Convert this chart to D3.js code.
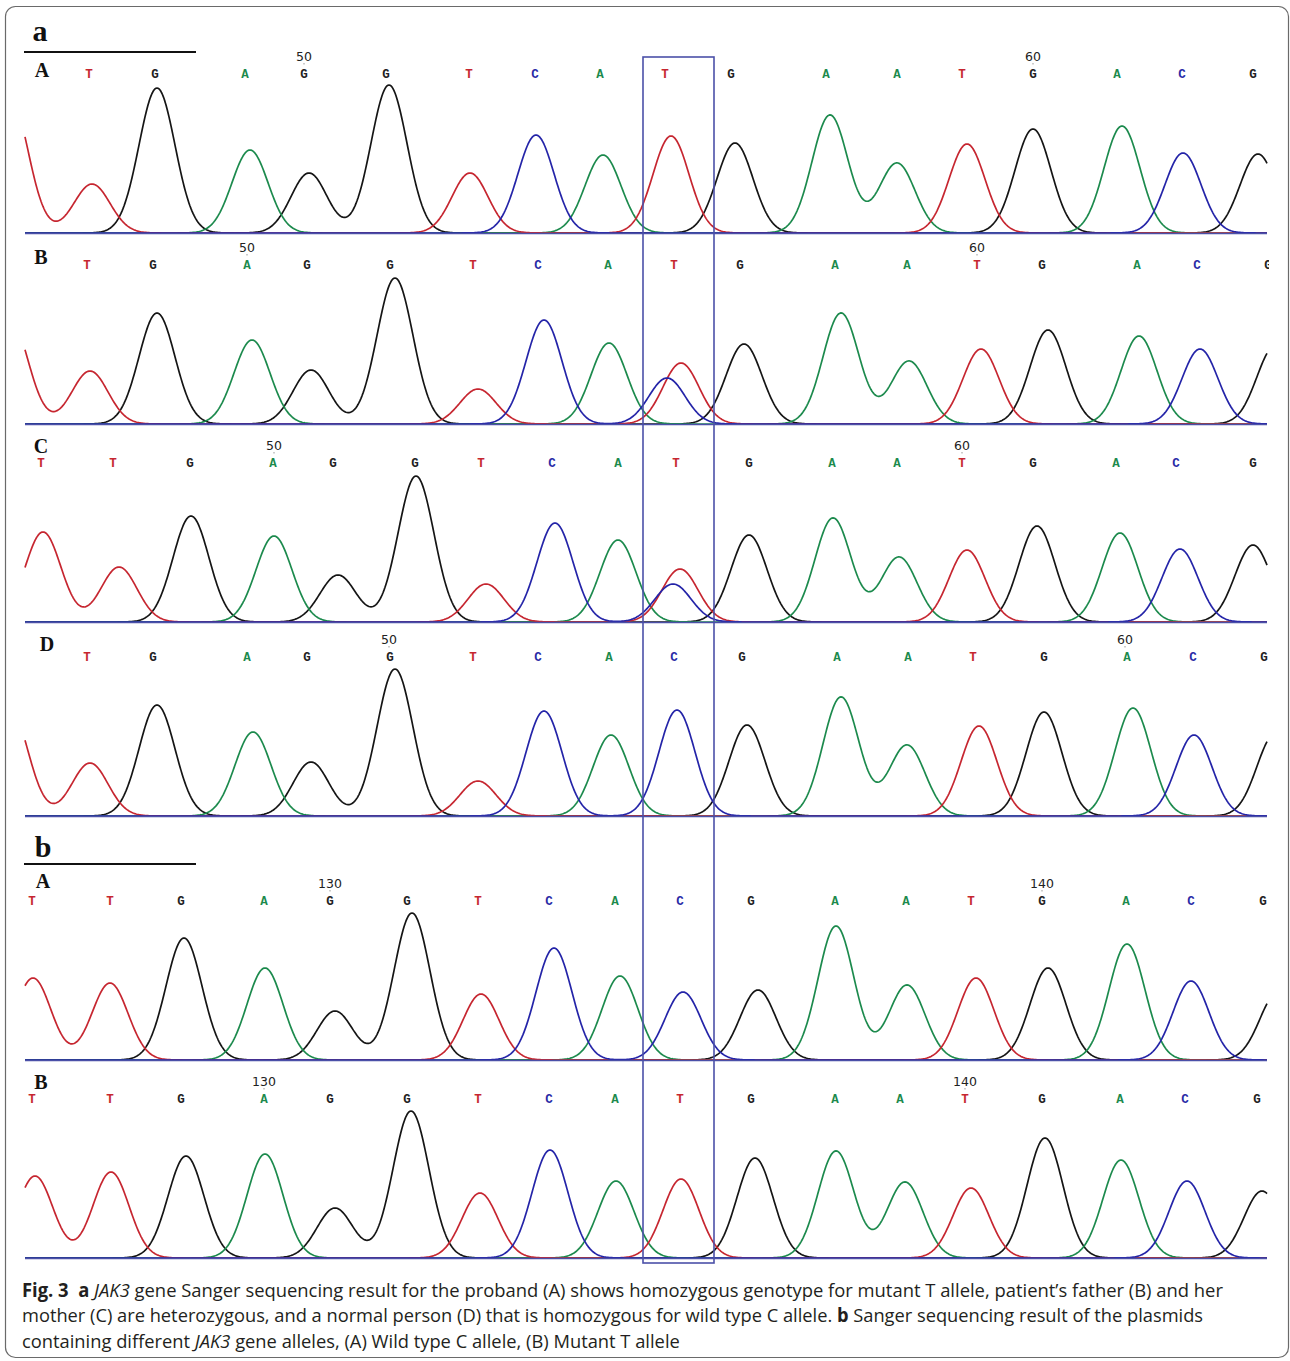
<!DOCTYPE html>
<html><head><meta charset="utf-8">
<script src="https://cdn.jsdelivr.net/npm/d3@7"></script>
<style>body{margin:0;background:#fff}</style>
</head><body>
<svg id="chart" width="1290" height="1361"></svg>
<script>
// ================= DATA =================
// Trace position in scan units, signal intensity in arbitrary units.
const sectionNames = ["a", "b"];
const panelNames = ["A", "B", "C", "D", "A", "B"];

// peaks: [base, scan position, intensity]
const peaksA = [["T",-15,136],["T",67,49],["G",132,145],["A",225,83],["G",284,60],["G",364,148],["T",445,60],["C",511,98],["A",578,78],["T",646,97],["G",710,90],["A",805,118],["A",872,70],["T",942,89],["G",1008,104],["A",1097,107],["C",1158,80],["G",1233,79]];
const peaksB = [["T",-15,105],["T",65,53],["G",132,111],["A",227,84],["G",286,54],["G",370,146],["T",453,35],["C",519,104],["A",584,81],["C",642,46],["T",656,61],["G",719,80],["A",816,111],["A",884,63],["T",956,75],["G",1023,94],["A",1114,88],["C",1175,75],["G",1250,78]];
const peaksC = [["T",18,90],["T",94,55],["G",166,106],["A",249,86],["G",313,47],["G",391,146],["T",461,38],["C",530,99],["A",593,82],["C",648,38],["T",655,53],["G",724,87],["A",808,104],["A",874,65],["T",942,72],["G",1012,96],["A",1095,89],["C",1155,73],["G",1228,77]];
const peaksD = [["T",-15,107],["T",65,53],["G",132,111],["A",228,84],["G",286,54],["G",370,147],["T",453,35],["C",519,105],["A",586,81],["C",652,106],["G",722,91],["A",816,119],["A",882,71],["T",954,90],["G",1019,104],["A",1108,108],["C",1169,81],["G",1250,82]];
const peaksPlasmidA = [["T",8,82],["T",85,77],["G",159,122],["A",240,92],["G",310,49],["G",387,147],["T",456,66],["C",529,112],["A",595,84],["C",658,68],["G",733,70],["A",811,134],["A",882,75],["T",951,82],["G",1023,92],["A",1102,116],["C",1166,79],["G",1253,68]];
const peaksPlasmidB = [["T",10,82],["T",86,86],["G",161,102],["A",240,104],["G",310,50],["G",386,147],["T",455,65],["C",525,108],["A",591,77],["T",656,79],["G",730,100],["A",811,107],["A",880,76],["T",946,70],["G",1020,120],["A",1096,98],["C",1162,77],["G",1237,67]];

// base calls: sequence + scan positions
const callsA = "TGAGGTCATGAATGACG";
const callPosA = [64,130,220,279,361,444,510,575,640,706,801,872,937,1008,1092,1157,1228];
const callsB = "TGAGGTCATGAATGACG";
const callPosB = [62,128,222,282,365,448,513,583,649,715,810,882,952,1017,1112,1172,1243];
const callsC = "TTGAGGTCATGAATGACG";
const callPosC = [16,88,165,248,308,390,456,527,593,651,724,807,872,937,1008,1091,1151,1228];
const callsD = "TGAGGTCACGAATGACG";
const callPosD = [62,128,222,282,365,448,513,584,649,717,812,883,948,1019,1102,1168,1239];
const callsPlasmidA = "TTGAGGTCACGAATGACG";
const callPosPlasmidA = [7,85,156,239,305,382,453,524,590,655,726,810,881,946,1017,1101,1166,1238];
const callsPlasmidB = "TTGAGGTCATGAATGACG";
const callPosPlasmidB = [7,85,156,239,305,382,453,524,590,655,726,810,875,940,1017,1095,1160,1232];

// base numbering ticks: [number, scan position]
const numbersA = [[50,279],[60,1008]];
const numbersB = [[50,222],[60,952]];
const numbersC = [[50,249],[60,937]];
const numbersD = [[50,364],[60,1100]];
const numbersPlasmidA = [[130,305],[140,1017]];
const numbersPlasmidB = [[130,239],[140,940]];

// highlighted variant window (scan units)
const variantWindow = [618, 689];

const captionLines = [
  [["b","Fig. 3"],["n","  "],["b","a"],["n"," "],["i","JAK3"],["n"," gene Sanger sequencing result for the proband (A) shows homozygous genotype for mutant T allele, patient\u2019s father (B) and her"]],
  [["n","mother (C) are heterozygous, and a normal person (D) that is homozygous for wild type C allele. "],["b","b"],["n"," Sanger sequencing result of the plasmids"]],
  [["n","containing different "],["i","JAK3"],["n"," gene alleles, (A) Wild type C allele, (B) Mutant T allele"]]
];

// ================= LAYOUT / STYLE =================
const panels = [
  {peaks: peaksA, calls: callsA, pos: callPosA, nums: numbersA},
  {peaks: peaksB, calls: callsB, pos: callPosB, nums: numbersB},
  {peaks: peaksC, calls: callsC, pos: callPosC, nums: numbersC},
  {peaks: peaksD, calls: callsD, pos: callPosD, nums: numbersD},
  {peaks: peaksPlasmidA, calls: callsPlasmidA, pos: callPosPlasmidA, nums: numbersPlasmidA},
  {peaks: peaksPlasmidB, calls: callsPlasmidB, pos: callPosPlasmidB, nums: numbersPlasmidB}
];
const baselines = [233, 424, 622, 816, 1060, 1258];
const labelX = [42, 41, 41, 47, 43, 41];
const labelRise = [163, 167, 176, 172, 179, 176];
const sectionLayout = [{x: 40, y: 41, line: 52}, {x: 43, y: 857, line: 864}];
const captionY = [1297, 1322, 1348];
const captionW = [1202, 1182, 658];
const sigma = 18;

const traceColor = {T: "#c62630", A: "#1c8a4d", G: "#151515", C: "#2424a8"};
const letterColor = {T: "#c62630", A: "#1c8a4d", G: "#222", C: "#2a2aa6"};
const baseColor = "#4b50a8";

const svg = d3.select("#chart");
const x = d3.scaleLinear().domain([0, 1242]).range([25, 1267]);
const y = d3.scaleLinear().domain([0, 150]).range([0, -150]);

// frame
svg.append("rect").attr("x", 5.5).attr("y", 6.5).attr("width", 1283).attr("height", 1351)
  .attr("rx", 10).attr("fill", "none").attr("stroke", "#6a6a6a").attr("stroke-width", 1.2);

svg.append("defs").append("clipPath").attr("id", "clipL")
  .append("rect").attr("x", 0).attr("y", -2000).attr("width", x(1244)).attr("height", 4000);

// section labels
sectionNames.forEach((s, i) => {
  const L = sectionLayout[i];
  svg.append("text").attr("x", L.x).attr("y", L.y).attr("text-anchor", "middle")
    .attr("font-family", "Liberation Serif, serif").attr("font-weight", "bold")
    .attr("font-size", 30).attr("fill", "#111").text(s);
  svg.append("line").attr("x1", 24).attr("x2", 196).attr("y1", L.line).attr("y2", L.line)
    .attr("stroke", "#111").attr("stroke-width", 2);
});

const samples = d3.range(0, 1242.5, 1);
const line = d3.line().x(d => x(d[0])).y(d => y(d[1]));
const order = ["G", "A", "T", "C"];

panels.forEach((p, i) => {
  const g = svg.append("g").attr("transform", `translate(0,${baselines[i]})`);
  // panel label
  g.append("text").attr("x", labelX[i]).attr("y", -labelRise[i] + 6.5).attr("text-anchor", "middle")
    .attr("font-family", "Liberation Serif, serif").attr("font-weight", "bold")
    .attr("font-size", 20).attr("fill", "#111").text(panelNames[i]);
  // traces
  order.forEach(b => {
    const pk = p.peaks.filter(d => d[0] === b);
    const data = samples.map(s => [s, d3.sum(pk, d => d[2] * Math.exp(-((s - d[1]) ** 2) / (2 * sigma * sigma)))]);
    g.append("path").datum(data).attr("d", line).attr("fill", "none")
      .attr("stroke", traceColor[b]).attr("stroke-width", 1.7).attr("stroke-linejoin", "round");
  });
  // baseline
  g.append("line").attr("x1", x(0)).attr("x2", x(1242)).attr("y1", 0.5).attr("y2", 0.5)
    .attr("stroke", baseColor).attr("stroke-width", 1.6);
  // base calls
  const lg = g.append("g").attr("clip-path", "url(#clipL)");
  lg.selectAll("text.call").data(p.calls.split("").map((c, k) => [c, p.pos[k]])).join("text")
    .attr("class", "call").attr("x", d => x(d[1])).attr("y", -155.5).attr("text-anchor", "middle")
    .attr("font-family", "Liberation Mono, monospace").attr("font-weight", "bold")
    .attr("font-size", 12.5).attr("fill", d => letterColor[d[0]]).text(d => d[0]);
  // numbering
  g.selectAll("text.num").data(p.nums).join("text").attr("class", "num")
    .attr("x", d => x(d[1])).attr("y", -172).attr("text-anchor", "middle")
    .attr("font-family", "DejaVu Sans, sans-serif").attr("font-size", 12.5).attr("fill", "#222")
    .text(d => d[0]);
  g.selectAll("line.tk").data(p.nums).join("line").attr("class", "tk")
    .attr("x1", d => x(d[1])).attr("x2", d => x(d[1])).attr("y1", -170).attr("y2", -168.5)
    .attr("stroke", "#999").attr("stroke-width", 1);
});

// variant box
svg.append("rect").attr("x", x(variantWindow[0])).attr("y", 57)
  .attr("width", x(variantWindow[1]) - x(variantWindow[0])).attr("height", 1263 - 57)
  .attr("fill", "none").attr("stroke", baseColor).attr("stroke-width", 1.6);

// caption
captionLines.forEach((ln, i) => {
  const t = svg.append("text").attr("x", 0).attr("y", 0)
    .attr("font-family", "Open Sans, sans-serif").attr("font-size", 19).attr("fill", "#231f20")
    .style("white-space", "pre");
  ln.forEach(seg => {
    const ts = t.append("tspan").text(seg[1]);
    if (seg[0] === "b") ts.attr("font-weight", "bold");
    if (seg[0] === "i") ts.attr("font-style", "italic");
  });
  const w = t.node().getComputedTextLength();
  t.attr("transform", `translate(22,${captionY[i]}) scale(${captionW[i] / w},1)`);
});
</script>
</body></html>
